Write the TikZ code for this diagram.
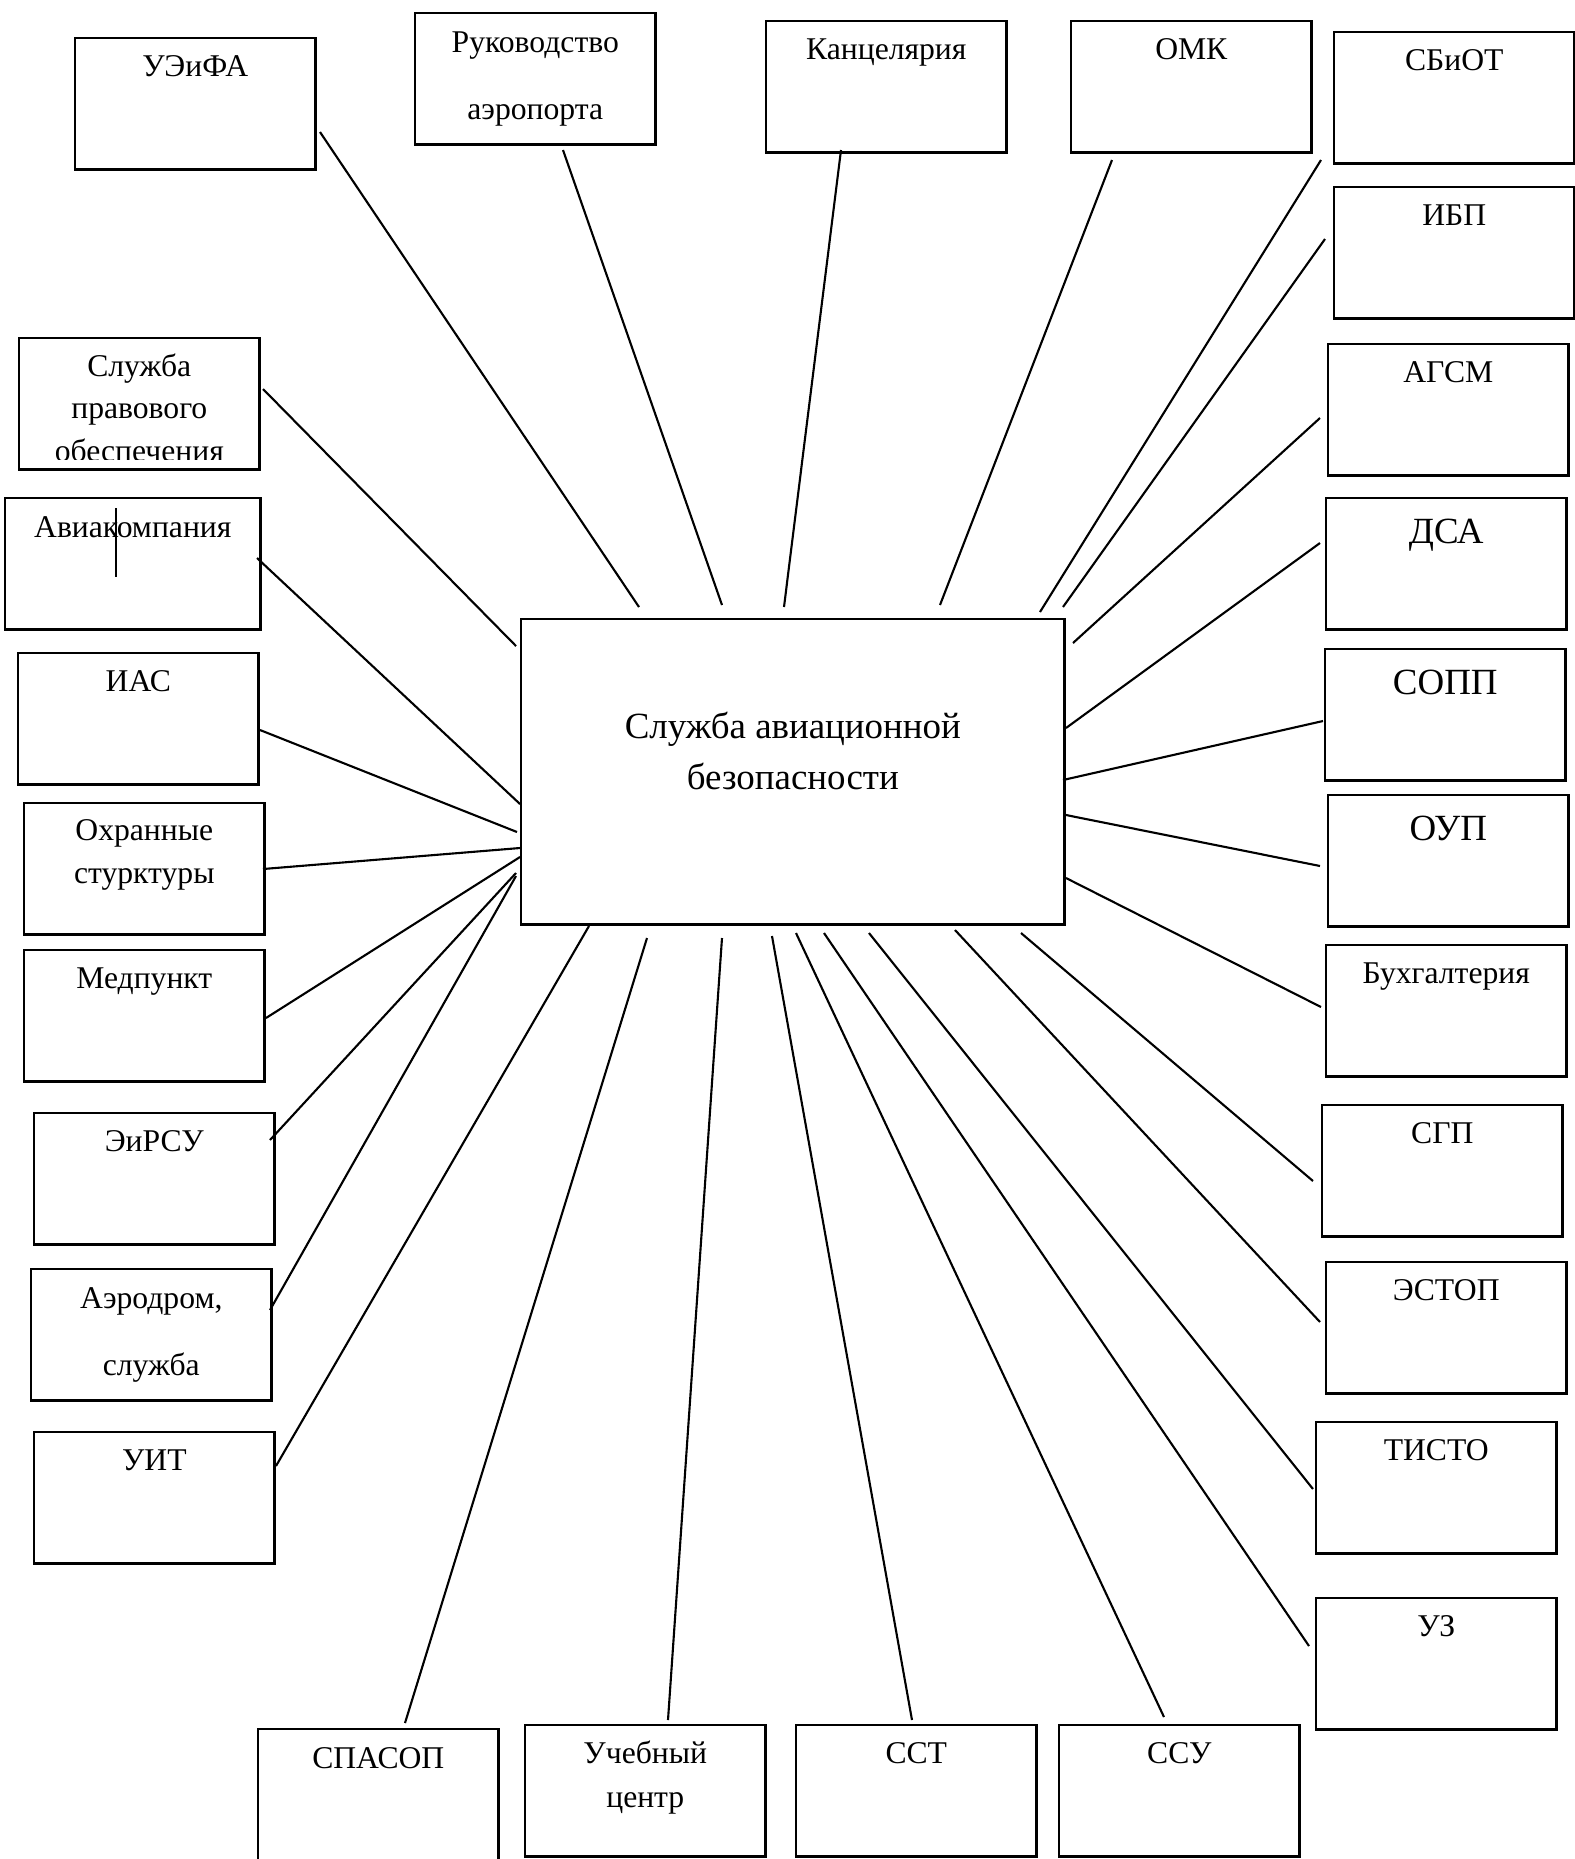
\documentclass[tikz,border=0pt]{standalone}
\usepackage{fontspec}
\setmainfont{Liberation Serif}
\tikzset{
  unitbox/.style={draw, line width=0.7pt, rectangle, anchor=north west, minimum width=2.4cm, minimum height=1.31cm, inner sep=0pt},
  lbl/.style={anchor=base, align=center, inner sep=0pt, font=\fontsize{9}{12}\selectfont},
  biglbl/.style={lbl, font=\fontsize{10.5}{14.5}\selectfont},
  conn/.style={line width=0.6pt},
}
\begin{document}
\begin{tikzpicture}[x=0.01cm, y=-0.01cm]
	\path[use as bounding box, clip] (0,0) rectangle (1575,1859);

	% central service (base = last line)
	\node[unitbox, minimum width=5.43cm, minimum height=3.05cm] (ctr) at (520,618) {};
	\node[biglbl] (ctr-t) at ([shift={(0,171)}]ctr.north) {Служба авиационной\\безопасности};

	% units with a one-line name
	\foreach \n/\x/\y/\t in {uefa/74/37/УЭиФА, kanc/765/20/Канцелярия, omk/1070/20/ОМК,
		sbiot/1333/31/СБиОТ, ibp/1333/186/ИБП, agsm/1327/343/АГСМ, buh/1325/944/Бухгалтерия,
		sgp/1321/1104/СГП, estop/1325/1261/ЭСТОП, tisto/1315/1421/ТИСТО, uz/1315/1597/УЗ,
		sst/795/1724/ССТ, ssu/1058/1724/ССУ, ias/17/652/ИАС, med/23/949/Медпункт,
		eirsu/33/1112/ЭиРСУ, uit/33/1431/УИТ}{
		\node[unitbox] (\n) at (\x,\y) {};
		\node[lbl] (\n-t) at ([shift={(0,39)}]\n.north) {\t};
	}
	\foreach \n/\x/\y/\t in {dsa/1325/497/ДСА, sopp/1324/648/СОПП, oup/1327/794/ОУП}{
		\node[unitbox] (\n) at (\x,\y) {};
		\node[biglbl] (\n-t) at ([shift={(0,46)}]\n.north) {\t};
	}

	% the other units
	\node[unitbox] (ruk) at (414,12) {};
	\node[lbl] (ruk-t) at ([shift={(0,107)}]ruk.north) {Руководство\\[7pt]аэропорта};
	\node[unitbox] (pravo) at (18,337) {};
	\begin{scope}
		\clip (pravo.north west) rectangle ([shift={(0,-11)}]pravo.south east);
		\node[lbl] (pravo-t) at ([shift={(0,124)}]pravo.north) {Служба\\правового\\обеспечения};
	\end{scope}
	\node[unitbox, minimum width=2.55cm] (avia) at (4,497) {};
	\node[lbl] (avia-t) at ([shift={(0,40)}]avia.north) {Авиакомпания};
	\draw[line width=0.8pt] ([shift={(112,11)}]avia.north west) -- ([shift={(112,80)}]avia.north west);
	\node[unitbox] (ohr) at (23,802) {};
	\node[lbl] (ohr-t) at ([shift={(0,81)}]ohr.north) {Охранные\\стурктуры};
	\node[unitbox] (aero) at (30,1268) {};
	\node[lbl] (aero-t) at ([shift={(0,107)}]aero.north) {Аэродром,\\[7pt]служба};
	\node[unitbox, minimum height=1.45cm] (spasop) at (257,1728) {};
	\node[lbl] (spasop-t) at ([shift={(0,40)}]spasop.north) {СПАСОП};
	\node[unitbox] (ucheb) at (524,1724) {};
	\node[lbl] (ucheb-t) at ([shift={(0,83)}]ucheb.north) {Учебный\\[0.5pt]центр};

	% links to the central service
	\foreach \n/\ax/\ay/\bx/\by in {uefa/246/95/119/-11, ruk/149/138/202/-13, kanc/76/130/264/-11,
		omk/42/140/420/-13, sbiot/-12/129/520/-6, ibp/-8/53/543/-11, agsm/-7/75/553/25,
		dsa/-5/46/546/110, sopp/-1/73/543/162, oup/-7/72/546/197, buh/-4/63/546/260,
		sgp/-8/77/501/315, estop/-5/61/435/312, tisto/-2/68/349/315, uz/-6/49/304/315,
		spasop/148/-5/127/320, ucheb/144/-4/202/320, sst/117/-4/252/318, ssu/106/-7/276/315,
		pravo/245/52/-4/28, avia/253/61/0/186, ias/243/78/-3/214, ohr/240/67/0/230,
		med/243/69/0/239, eirsu/237/28/-4/255, aero/240/42/-4/258, uit/243/35/69/308}{
		\draw[conn] ([shift={(\ax,\ay)}]\n.north west) -- ([shift={(\bx,\by)}]ctr.north west);
	}
\end{tikzpicture}
\end{document}
